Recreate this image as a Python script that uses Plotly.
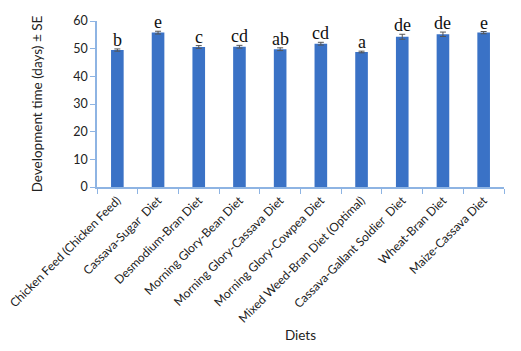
import plotly.graph_objects as go

diets = ["Chicken Feed (Chicken Feed)", "Cassava-Sugar  Diet", "Desmodium-Bran Diet",
         "Morning Glory-Bean Diet", "Morning Glory-Cassava Diet", "Morning Glory-Cowpea Diet",
         "Mixed Weed-Bran Diet (Optimal)", "Cassava-Gallant Soldier  Diet", "Wheat-Bran Diet",
         "Maize-Cassava Diet"]
dev_time = [49.5, 55.8, 50.6, 50.7, 49.8, 51.8, 48.8, 54.3, 55.2, 55.8]
se = [0.4, 0.5, 0.5, 0.5, 0.5, 0.5, 0.3, 0.9, 0.8, 0.4]
letters = ["b", "e", "c", "cd", "ab", "cd", "a", "de", "de", "e"]

fig = go.Figure()
fig.add_trace(go.Bar(
    x=diets, y=dev_time, width=0.31,
    marker=dict(color="#3A72C6", line=dict(width=0)),
    error_y=dict(type="data", array=se, visible=True, color="#555555", thickness=1, width=3),
))
for d, v, e, l in zip(diets, dev_time, se, letters):
    fig.add_annotation(x=d, y=v + e, text=l, showarrow=False, yanchor="bottom", yshift=-3,
                       font=dict(family="Liberation Serif", size=18, color="#111111"))

fig.update_layout(
    width=521, height=351,
    margin=dict(l=97, r=17, t=21, b=164),
    paper_bgcolor="white", plot_bgcolor="white",
    showlegend=False,
    font=dict(family="Lato", color="#222222"),
    xaxis=dict(
        automargin=False,
        showline=True, linecolor="#8EB4E3", linewidth=1.5,
        ticks="outside", tickson="boundaries", ticklen=5, tickcolor="#8EB4E3",
        tickangle=-45, tickfont=dict(size=12, family="Lato"),
        title=dict(text="Diets", font=dict(size=13.5), standoff=6),
        showgrid=False,
    ),
    yaxis=dict(
        automargin=False,
        range=[0, 60], dtick=10,
        showline=True, linecolor="#8EB4E3", linewidth=1.5,
        ticks="outside", ticklen=5, tickcolor="#8EB4E3",
        tickfont=dict(size=12.5, family="Lato"),
        title=dict(text="Development time (days) ± SE", font=dict(size=13.5), standoff=28),
        showgrid=False, zeroline=False,
    ),
)
fig.write_html("out.html")
